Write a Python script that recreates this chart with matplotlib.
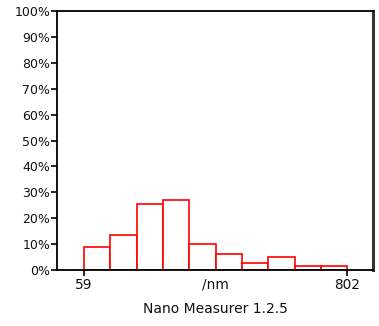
import numpy as np
import matplotlib
matplotlib.use("Agg")
import matplotlib.pyplot as plt

# Particle size distribution (percentage of particles per size bin)
size_min = 59
size_max = 802
bin_percent = [8.8, 13.5, 25.5, 27.0, 9.9, 6.2, 2.6, 5.1, 1.5, 1.5]
y_ticks = [0, 10, 20, 30, 40, 50, 60, 70, 80, 90, 100]
x_unit = "/nm"
footer = "Nano Measurer 1.2.5"

plt.rcParams["font.family"] = ["DejaVu Sans"]

fig = plt.figure(figsize=(3.79, 3.26), dpi=100)
ax = fig.add_axes([57 / 379, 1 - 270 / 326, (373 - 57) / 379, (270 - 11) / 326])

edges = np.linspace(size_min, size_max, len(bin_percent) + 1)
ax.bar(edges[:-1], bin_percent, width=np.diff(edges), align="edge",
       facecolor="white", edgecolor="#ff0000", linewidth=1.2, zorder=2)

ax.set_xlim(-17.2, 874.5)
ax.set_ylim(0, 100)

ax.set_yticks(y_ticks)
ax.set_yticklabels([f"{v}%" for v in y_ticks], fontsize=9, color="#111111")
ax.set_xticks([size_min, size_max])
ax.set_xticklabels([str(size_min), str(size_max)], fontsize=9.8, color="#111111")
ax.tick_params(axis="both", direction="out", length=4, width=1.2, color="black", pad=2)
ax.tick_params(axis="y", pad=1)

for side in ["left", "top", "bottom"]:
    ax.spines[side].set_linewidth(1.3)
    ax.spines[side].set_color("black")
ax.spines["right"].set_linewidth(2.2)
ax.spines["right"].set_color("#333333")

fig.text(215 / 379, 1 - 284 / 326, x_unit, ha="center", va="center", fontsize=9.8, color="#111111")
fig.text(215 / 379, 1 - 309 / 326, footer, ha="center", va="center", fontsize=10, color="#111111")

fig.savefig("out.png", dpi=100, facecolor="white")
